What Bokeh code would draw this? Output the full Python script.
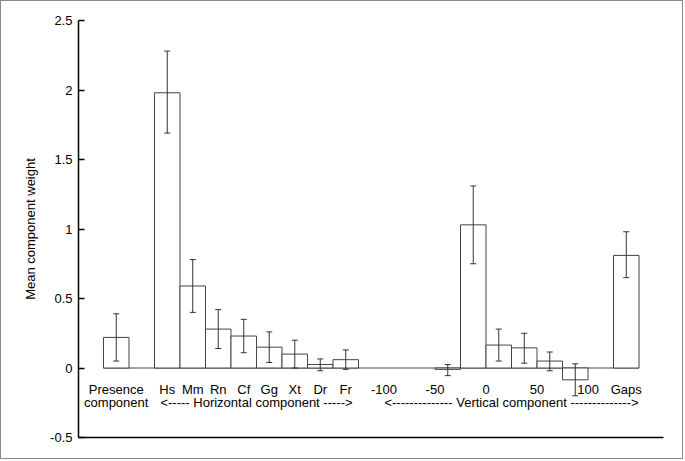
from bokeh.plotting import figure
from bokeh.models import (ColumnDataSource, Range1d, FixedTicker, CustomJSTickFormatter,
                          Whisker, TeeHead, Title)
from bokeh.core.properties import value
from bokeh.embed import file_html
from bokeh.resources import INLINE

# ---------------- data ----------------
presence_label = ["Presence"]
presence_mean = [0.22]
presence_lo = [0.05]
presence_hi = [0.39]

horiz_labels = ["Hs", "Mm", "Rn", "Cf", "Gg", "Xt", "Dr", "Fr"]
horiz_mean = [1.98, 0.59, 0.28, 0.23, 0.15, 0.10, 0.025, 0.06]
horiz_lo = [1.69, 0.40, 0.14, 0.11, 0.04, 0.00, -0.02, -0.01]
horiz_hi = [2.28, 0.78, 0.42, 0.35, 0.26, 0.20, 0.065, 0.13]

vert_bin_start = [-50, -25, 0, 25, 50, 75]
vert_mean = [-0.01, 1.03, 0.165, 0.145, 0.05, -0.085]
vert_lo = [-0.055, 0.75, 0.05, 0.035, -0.02, -0.20]
vert_hi = [0.025, 1.31, 0.28, 0.25, 0.115, 0.03]
vert_tick_values = [-100, -50, 0, 50, 100]
vert_tick_labels = ["-100", "-50", "0", "50", "100"]

gaps_label = ["Gaps"]
gaps_mean = [0.81]
gaps_lo = [0.65]
gaps_hi = [0.98]

y_ticks = [-0.5, 0, 0.5, 1, 1.5, 2, 2.5]

# ---------------- slot layout ----------------
presence_x = [0]
horiz_x = [2 + i for i in range(len(horiz_labels))]
vert_origin = 10.5  # slot boundary where the -100 bin begins
vert_x = [vert_origin + 0.5 + (b + 100) / 25 for b in vert_bin_start]
vert_tick_x = [vert_origin + (v + 100) / 25 for v in vert_tick_values]
gaps_x = [20]
n_slots = 21

xs = presence_x + horiz_x + vert_x + gaps_x
means = presence_mean + horiz_mean + vert_mean + gaps_mean
los = presence_lo + horiz_lo + vert_lo + gaps_lo
his = presence_hi + horiz_hi + vert_hi + gaps_hi

src = ColumnDataSource(dict(x=xs, top=means, lo=los, hi=his))

FONT = "Liberation Sans"

p = figure(width=683, height=459, output_backend="svg", toolbar_location=None,
           x_range=Range1d(-1.48, 21.46), y_range=Range1d(-0.5, 2.5),
           min_border_left=77, min_border_right=21, min_border_top=19, min_border_bottom=23,
           styles={"border": "1px solid #8a8a8a"})
p.outline_line_color = None
p.xgrid.visible = False
p.ygrid.visible = False
p.background_fill_color = "white"
p.border_fill_color = "white"

# baseline at zero
p.segment(x0=[-0.5], y0=[0], x1=[n_slots - 0.5], y1=[0], line_color="#444", line_width=1)

p.vbar(x="x", width=1, bottom=0, top="top", source=src,
       fill_color="white", line_color="#444", line_width=1)

w = Whisker(base="x", lower="lo", upper="hi", source=src, dimension="height",
            line_color="#333", line_width=1, level="overlay",
            lower_head=TeeHead(size=6, line_color="#333", line_width=1),
            upper_head=TeeHead(size=6, line_color="#333", line_width=1))
p.add_layout(w)

# category labels (row 1)
row1_x = presence_x + horiz_x + vert_tick_x + gaps_x
row1_t = presence_label + horiz_labels + vert_tick_labels + gaps_label
p.text(x=row1_x, y=[-0.152] * len(row1_x), text=row1_t,
       text_font=value(FONT), text_font_size="13px", text_color="black",
       text_align="center", text_baseline="middle")

# group labels (row 2)
row2_x = [presence_x[0], (horiz_x[0] + horiz_x[-1]) / 2, (vert_origin + n_slots - 0.5) / 2]
row2_t = ["component",
          "<----- Horizontal component ----->",
          "<-------------- Vertical component -------------->"]
p.text(x=row2_x, y=[-0.248] * 3, text=row2_t,
       text_font=value(FONT), text_font_size="13px", text_color="black",
       text_align="center", text_baseline="middle")

# y axis
ya = p.yaxis[0]
ya.ticker = FixedTicker(ticks=y_ticks)
ya.formatter = CustomJSTickFormatter(code="return tick.toString();")
ya.major_tick_in = 6
ya.major_tick_out = 0
ya.minor_tick_in = 0
ya.minor_tick_out = 0
ya.axis_line_width = 1.5
ya.axis_line_color = "black"
ya.major_tick_line_color = "black"
ya.major_tick_line_width = 1.5
ya.major_label_standoff = 6
ya.major_label_text_font = FONT
ya.major_label_text_font_size = "13px"
ya.major_label_text_color = "black"

# x axis: bare line only
xa = p.xaxis[0]
xa.ticker = FixedTicker(ticks=[])
xa.major_tick_in = 0
xa.major_tick_out = 0
xa.minor_tick_in = 0
xa.minor_tick_out = 0
xa.axis_line_width = 1.5
xa.axis_line_color = "black"
xa.major_label_text_font_size = "0px"

ylab = Title(text="Mean component weight", align="center", standoff=20,
             text_font=FONT, text_font_size="13px", text_font_style="normal",
             text_color="black")
p.add_layout(ylab, "left")

open("out.html", "w").write(file_html(p, INLINE))
